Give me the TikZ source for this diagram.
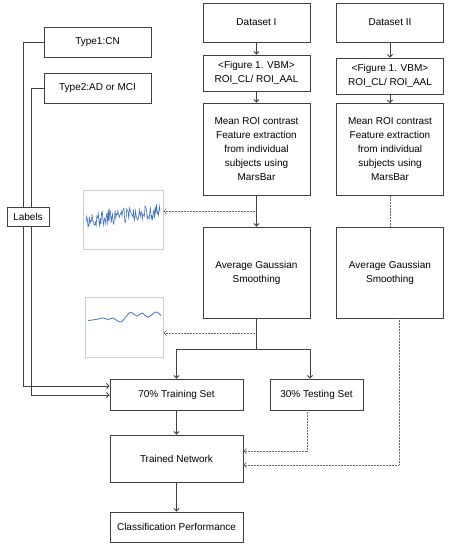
\documentclass[tikz,border=0pt]{standalone}
\usepackage{fontspec}
\setmainfont{Liberation Sans}
\usetikzlibrary{arrows.meta,calc}
\definecolor{sigblue}{RGB}{68,114,196}

\begin{document}
\begin{tikzpicture}[x=1pt,y=-1pt,
  box/.style={draw=black!75, line width=0.9pt, fill=white, align=center,
    inner sep=1pt, font=\fontsize{10}{14}\selectfont},
  thumb/.style={draw=black!20, line width=1pt, fill=white, inner sep=0pt},
  link/.style={draw=black!75, line width=0.9pt},
  dots/.style={draw=black!60, line width=0.7pt, dash pattern=on 0.9pt off 0.6pt},
  tip/.style={-{Straight Barb[length=2.5pt,width=5pt]}}]
  \useasboundingbox (0,0) rectangle (451,550);
  % Two data pipelines
  \node[box, minimum width=107pt, minimum height=39pt] (dsone) at (256.5,22.5) {Dataset I};
  \node[box, minimum width=107pt, minimum height=39pt] (dstwo) at (390,22.5) {Dataset II};
  \node[box, minimum width=107pt, minimum height=36pt] (vbmone) at (256.5,73) {<Figure 1. VBM>\\ROI\_CL/ ROI\_AAL};
  \node[box, minimum width=107pt, minimum height=36pt] (vbmtwo) at (390,76) {<Figure 1. VBM>\\ROI\_CL/ ROI\_AAL};
  \node[box, minimum width=107pt, minimum height=92pt] (roione) at (256.5,149) {Mean ROI contrast\\Feature extraction\\from individual\\subjects using\\MarsBar};
  \node[box, minimum width=107pt, minimum height=92pt] (roitwo) at (390,149.5) {Mean ROI contrast\\Feature extraction\\from individual\\subjects using\\MarsBar};
  \node[box, minimum width=107pt, minimum height=91pt] (agsone) at (256.5,272.5) {Average Gaussian\\Smoothing};
  \node[box, minimum width=107pt, minimum height=91pt] (agstwo) at (390,272.5) {Average Gaussian\\Smoothing};
  % Training, testing and results
  \node[box, minimum width=133pt, minimum height=31pt] (train) at (176.5,394.5) {70\% Training Set};
  \node[box, minimum width=93pt, minimum height=31pt] (test) at (316.5,394.5) {30\% Testing Set};
  \node[box, minimum width=133pt, minimum height=47pt] (net) at (176.5,458.5) {Trained Network};
  \node[box, minimum width=133pt, minimum height=30pt] (perf) at (176.5,527) {Classification Performance};
  % Class labels
  \node[box, minimum width=107pt, minimum height=30pt] (typeone) at (97.5,42) {Type1:CN};
  \node[box, minimum width=107pt, minimum height=30pt] (typetwo) at (97.5,88) {Type2:AD or MCI};
  % Signal thumbnails
  \node[thumb, minimum width=80pt, minimum height=59pt] (sigraw) at (123,220) {};
  \node[thumb, minimum width=78pt, minimum height=60pt] (sigsmooth) at (124,327) {};
  \pgfmathsetseed{7}
  \draw[sigblue, line width=0.6pt] plot[domain=86:160, samples=110]
    (\x, {220-0.12*(\x-86)+7.5*rand});
  \draw[sigblue, line width=0.8pt] plot[smooth] coordinates {(88,320.5) (96,319.5)
    (103,318) (108,319.5) (113,318) (121,322) (130,312.5) (137,316) (142,313)
    (148,317) (156,312) (161,315.5)};
  % Connectors
  \coordinate (tapone) at (256.5,211);
  \coordinate (taptwo) at (256.5,333);
  \coordinate (split) at (256.5,349);
  \coordinate (lone) at (23,386);
  \coordinate (ltwo) at (31,395);
  \draw[link,tip] (dsone) -- (vbmone);
  \draw[link,tip] (vbmone) -- (roione);
  \draw[link,tip] (roione) -- (agsone);
  \draw[link,tip] (dstwo) -- (vbmtwo);
  \draw[link,tip] (vbmtwo) -- (roitwo);
  \draw[dots] (roitwo) -- (agstwo);
  \draw[dots,tip] (tapone) -- (tapone -| sigraw.east);
  \draw[link] (agsone) -- (split);
  \draw[dots,tip] (taptwo) -- (taptwo -| sigsmooth.east);
  \draw[link,tip] (split) -| (train.north);
  \draw[link,tip] (split) -| ([xshift=-6.5pt]test.north);
  \draw[link,tip] (train) -- (net);
  \draw[link,tip] (net) -- (perf);
  \draw[dots,tip] ([xshift=-9.5pt]test.south) |- ([yshift=7.5pt]net.east);
  \draw[dots,tip] ([xshift=9pt]agstwo.south) |- ([yshift=-6.5pt]net.east);
  \draw[link,tip] (typeone.west) -| (lone) -- (lone -| train.west);
  \draw[link,tip] (typetwo.west) -| (ltwo) -- (ltwo -| train.west);
  \node[box, minimum width=42pt, minimum height=19pt] (labels) at (28,216.5) {Labels};
\end{tikzpicture}
\end{document}
